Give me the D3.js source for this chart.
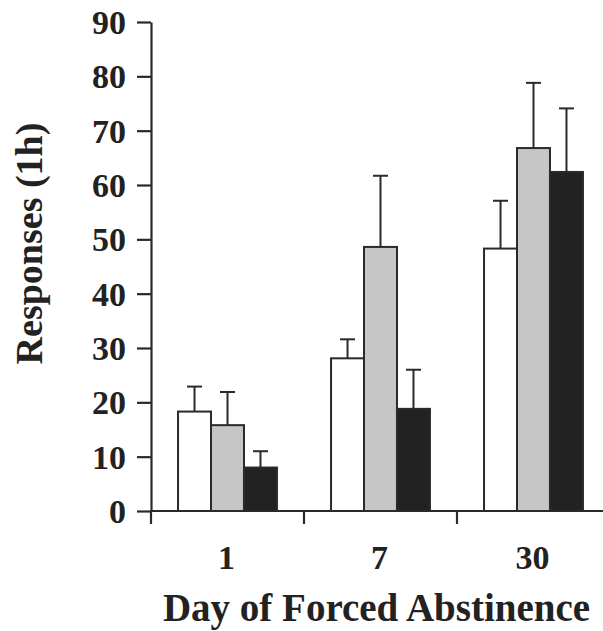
<!DOCTYPE html>
<html><head><meta charset="utf-8">
<script src="https://cdn.jsdelivr.net/npm/d3@7"></script>
<style>body{margin:0;background:#fff}svg{display:block}</style>
</head><body>
<script>
const categories = ["1", "7", "30"];
const seriesNames = ["s1", "s2", "s3"];
const mean1 = [18.3, 28.1, 48.3];
const mean2 = [15.8, 48.6, 66.8];
const mean3 = [8.0, 18.8, 62.4];
const err1 = [4.6, 3.5, 8.8];
const err2 = [6.1, 13.1, 12.0];
const err3 = [3.0, 7.2, 11.7];
const yTicks = [0, 10, 20, 30, 40, 50, 60, 70, 80, 90];
const fills = ["#ffffff", "#c6c6c6", "#222222"];

const W = 603, H = 631;
const ink = "#2a2a2a";
const font = "'Liberation Serif', 'Times New Roman', serif";
const svg = d3.select("body").append("svg").attr("width", W).attr("height", H);

const x = d3.scaleBand().domain(categories).range([151, 610]).paddingInner(0).paddingOuter(0);
const xs = d3.scaleBand().domain(seriesNames).range([0, x.bandwidth()]).paddingInner(0).paddingOuter(0.82);
const y = d3.scaleLinear().domain([0, 90]).range([511, 22]);

const means = [mean1, mean2, mean3];
const errs = [err1, err2, err3];
const data = [];
categories.forEach((c, i) => seriesNames.forEach((s, j) => data.push({c, s, j, v: means[j][i], e: errs[j][i]})));

// error bars
const eb = svg.append("g").attr("stroke", ink).attr("stroke-width", 2);
data.forEach(d => {
  const cx = x(d.c) + xs(d.s) + xs.bandwidth() / 2;
  eb.append("line").attr("x1", cx).attr("x2", cx).attr("y1", y(d.v)).attr("y2", y(d.v + d.e));
  eb.append("line").attr("x1", cx - 7.5).attr("x2", cx + 7.5).attr("y1", y(d.v + d.e)).attr("y2", y(d.v + d.e));
});

// bars
svg.append("g").selectAll("rect").data(data).join("rect")
  .attr("x", d => x(d.c) + xs(d.s))
  .attr("width", xs.bandwidth())
  .attr("y", d => y(d.v))
  .attr("height", d => y(0) - y(d.v))
  .attr("fill", d => fills[d.j])
  .attr("stroke", ink).attr("stroke-width", 2);

// y axis
const yAxis = svg.append("g").attr("transform", "translate(151,0)")
  .call(d3.axisLeft(y).tickValues(yTicks).tickSize(14).tickPadding(11).tickSizeOuter(0));
yAxis.select(".domain").attr("stroke", ink).attr("stroke-width", 2.2);
yAxis.selectAll(".tick line").attr("stroke", ink).attr("stroke-width", 2.2);
yAxis.selectAll(".tick text").attr("font-family", font).attr("font-weight", "bold")
  .attr("font-size", 34).attr("fill", "#222").attr("dy", "0.34em");

// x axis
const xg = svg.append("g");
xg.append("line").attr("x1", 150).attr("x2", W).attr("y1", y(0)).attr("y2", y(0))
  .attr("stroke", ink).attr("stroke-width", 2.2);
xg.selectAll("line.t").data(categories).join("line").attr("class", "t")
  .attr("x1", d => x(d)).attr("x2", d => x(d)).attr("y1", y(0)).attr("y2", y(0) + 13)
  .attr("stroke", ink).attr("stroke-width", 2.2);
xg.selectAll("text").data(categories).join("text")
  .attr("x", d => x(d) + x.bandwidth() / 2 - 1).attr("y", 569)
  .attr("text-anchor", "middle").attr("font-family", font).attr("font-weight", "bold")
  .attr("font-size", 34).attr("fill", "#222").text(d => d);

// titles
svg.append("text").attr("x", 376.5).attr("y", 621).attr("text-anchor", "middle")
  .attr("font-family", font).attr("font-weight", "bold").attr("font-size", 39).attr("fill", "#222")
  .text("Day of Forced Abstinence");
svg.append("text").attr("transform", "translate(42,243.5) rotate(-90)").attr("text-anchor", "middle")
  .attr("font-family", font).attr("font-weight", "bold").attr("font-size", 38).attr("fill", "#222")
  .text("Responses (1h)");
</script>
</body></html>
